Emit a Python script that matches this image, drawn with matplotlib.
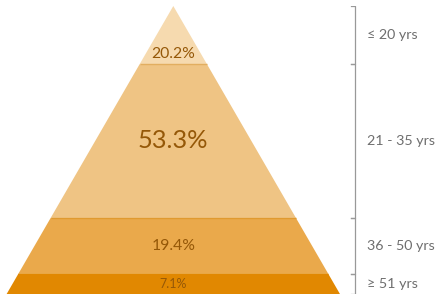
import matplotlib
matplotlib.use("Agg")
import matplotlib.pyplot as plt
from matplotlib.patches import Polygon

# Data (top to bottom)
groups = ["≤ 20 yrs", "21 - 35 yrs", "36 - 50 yrs", "≥ 51 yrs"]
values = [20.2, 53.3, 19.4, 7.1]
pct_labels = ["20.2%", "53.3%", "19.4%", "7.1%"]

colors = ["#F6DAAF", "#EFC484", "#EAA94B", "#E18801"]
edges = ["#E8BF85", "#E2AE60", "#E09A30", "#E18801"]
label_sizes = [11.3, 18.3, 11.3, 9.0]
label_pos = [0.82, 0.5, 0.5, 0.5]

plt.rcParams['font.family'] = ['Lato', 'DejaVu Sans']

W, H = 436, 297
fig = plt.figure(figsize=(W / 100, H / 100), dpi=100)
top_px, bot_px = 6, 294
ax = fig.add_axes([0, (H - bot_px) / H, 1, (bot_px - top_px) / H])
apex_px, half_px = 173.3, 166.65
ax.set_xlim(-apex_px / half_px, (W - apex_px) / half_px)
total = sum(values)
ax.set_ylim(total, 0)
ax.axis("off")

def hw(y):
    return y / total

y0 = 0.0
bracket_x = (355 - apex_px) / half_px
tick = 4 / half_px
text_x = (367 - apex_px) / half_px
for i, v in enumerate(values):
    y1 = y0 + v
    poly = Polygon([(-hw(y0), y0), (hw(y0), y0), (hw(y1), y1), (-hw(y1), y1)],
                   closed=True, facecolor=colors[i], edgecolor="none")
    ax.add_patch(poly)
    if i > 0:
        ax.plot([-hw(y0), hw(y0)], [y0, y0], color=edges[i], lw=1.0,
                solid_capstyle="butt")
    ax.text(0, y0 + v * label_pos[i], pct_labels[i], ha="center", va="center",
            fontsize=label_sizes[i], color="#955808")
    # bracket
    ax.plot([bracket_x - tick, bracket_x, bracket_x, bracket_x - tick],
            [y0, y0, y1, y1], color="#999999", lw=0.9)
    ax.text(text_x, (y0 + y1) / 2, groups[i], ha="left", va="center",
            fontsize=10.3, color="#6E6E6E")
    y0 = y1

fig.savefig("out.png", dpi=100)
